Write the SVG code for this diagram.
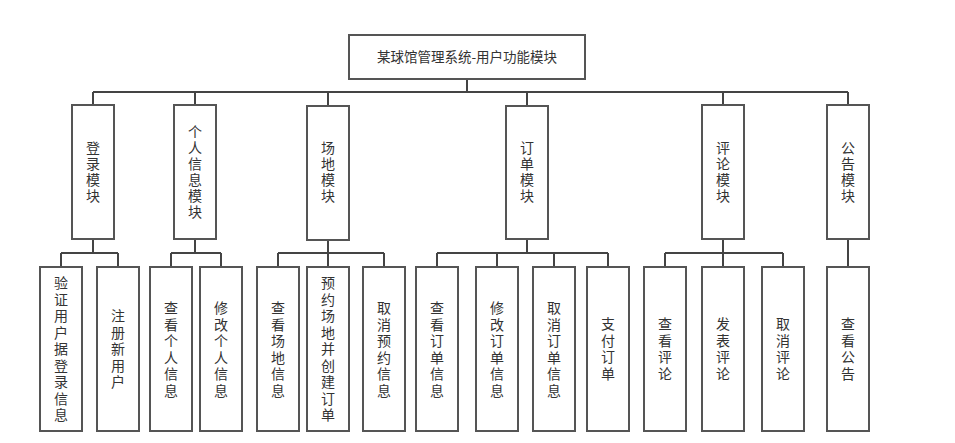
<svg xmlns="http://www.w3.org/2000/svg" width="955" height="443" viewBox="0 0 955 443">
<style>
.box{fill:#fff;stroke:#555;stroke-width:2}
.ln{fill:none;stroke:#444;stroke-width:2}
.t{font-family:"Noto Sans CJK SC","Noto Sans",sans-serif;font-size:14px;fill:#333;text-anchor:middle}
.tt{font-size:13.5px}
</style>
<rect width="955" height="443" fill="#fff"/>
<g id="connectors">
<path class="ln" d="M467 79V92M93 92H848M93 92V105M195 92V105M328 92V105M527 92V105M723 92V105M848 92V105"/>
<path class="ln" d="M93 239V253M61 253H118M61 253V267M118 253V267"/>
<path class="ln" d="M195 239V253M171 253H221M171 253V267M221 253V267"/>
<path class="ln" d="M328 240V253M278 253H384M278 253V267M328 253V267M384 253V267"/>
<path class="ln" d="M527 239V253M437 253H608M437 253V267M497 253V267M554 253V267M608 253V267"/>
<path class="ln" d="M723 239V253M665 253H783M665 253V267M723 253V267M783 253V267"/>
<path class="ln" d="M848 239V267"/>
</g>
<g id="root">
<rect class="box" x="349" y="35" width="236" height="44"/>
<text class="t tt" x="467" y="62">某球馆管理系统-用户功能模块</text>
</g>
<g id="login">
<rect class="box" x="72" y="105" width="42" height="134"/>
<text class="t" x="93" y="153"><tspan x="93">登</tspan><tspan x="93" dy="16">录</tspan><tspan x="93" dy="16">模</tspan><tspan x="93" dy="16">块</tspan></text>
</g>
<g id="personal">
<rect class="box" x="174" y="105" width="42" height="134"/>
<text class="t" x="195" y="137"><tspan x="195">个</tspan><tspan x="195" dy="16">人</tspan><tspan x="195" dy="16">信</tspan><tspan x="195" dy="16">息</tspan><tspan x="195" dy="16">模</tspan><tspan x="195" dy="16">块</tspan></text>
</g>
<g id="venue">
<rect class="box" x="307" y="106" width="42" height="134"/>
<text class="t" x="328" y="153"><tspan x="328">场</tspan><tspan x="328" dy="16">地</tspan><tspan x="328" dy="16">模</tspan><tspan x="328" dy="16">块</tspan></text>
</g>
<g id="order">
<rect class="box" x="506" y="106" width="42" height="133"/>
<text class="t" x="527" y="153"><tspan x="527">订</tspan><tspan x="527" dy="16">单</tspan><tspan x="527" dy="16">模</tspan><tspan x="527" dy="16">块</tspan></text>
</g>
<g id="comment">
<rect class="box" x="702" y="105" width="42" height="134"/>
<text class="t" x="723" y="153"><tspan x="723">评</tspan><tspan x="723" dy="16">论</tspan><tspan x="723" dy="16">模</tspan><tspan x="723" dy="16">块</tspan></text>
</g>
<g id="notice">
<rect class="box" x="827" y="105" width="42" height="134"/>
<text class="t" x="848" y="153"><tspan x="848">公</tspan><tspan x="848" dy="16">告</tspan><tspan x="848" dy="16">模</tspan><tspan x="848" dy="16">块</tspan></text>
</g>
<g id="verify-login">
<rect class="box" x="40" y="267" width="42" height="164"/>
<text class="t" x="61" y="288"><tspan x="61">验</tspan><tspan x="61" dy="16.5">证</tspan><tspan x="61" dy="16.5">用</tspan><tspan x="61" dy="16.5">户</tspan><tspan x="61" dy="16.5">据</tspan><tspan x="61" dy="16.5">登</tspan><tspan x="61" dy="16.5">录</tspan><tspan x="61" dy="16.5">信</tspan><tspan x="61" dy="16.5">息</tspan></text>
</g>
<g id="register">
<rect class="box" x="97" y="267" width="42" height="164"/>
<text class="t" x="118" y="321"><tspan x="118">注</tspan><tspan x="118" dy="16.5">册</tspan><tspan x="118" dy="16.5">新</tspan><tspan x="118" dy="16.5">用</tspan><tspan x="118" dy="16.5">户</tspan></text>
</g>
<g id="view-personal">
<rect class="box" x="150" y="267" width="42" height="164"/>
<text class="t" x="171" y="313"><tspan x="171">查</tspan><tspan x="171" dy="16.5">看</tspan><tspan x="171" dy="16.5">个</tspan><tspan x="171" dy="16.5">人</tspan><tspan x="171" dy="16.5">信</tspan><tspan x="171" dy="16.5">息</tspan></text>
</g>
<g id="edit-personal">
<rect class="box" x="200" y="267" width="42" height="164"/>
<text class="t" x="221" y="313"><tspan x="221">修</tspan><tspan x="221" dy="16.5">改</tspan><tspan x="221" dy="16.5">个</tspan><tspan x="221" dy="16.5">人</tspan><tspan x="221" dy="16.5">信</tspan><tspan x="221" dy="16.5">息</tspan></text>
</g>
<g id="view-venue">
<rect class="box" x="257" y="267" width="42" height="164"/>
<text class="t" x="278" y="313"><tspan x="278">查</tspan><tspan x="278" dy="16.5">看</tspan><tspan x="278" dy="16.5">场</tspan><tspan x="278" dy="16.5">地</tspan><tspan x="278" dy="16.5">信</tspan><tspan x="278" dy="16.5">息</tspan></text>
</g>
<g id="book-venue">
<rect class="box" x="307" y="267" width="42" height="164"/>
<text class="t" x="328" y="288"><tspan x="328">预</tspan><tspan x="328" dy="16.5">约</tspan><tspan x="328" dy="16.5">场</tspan><tspan x="328" dy="16.5">地</tspan><tspan x="328" dy="16.5">并</tspan><tspan x="328" dy="16.5">创</tspan><tspan x="328" dy="16.5">建</tspan><tspan x="328" dy="16.5">订</tspan><tspan x="328" dy="16.5">单</tspan></text>
</g>
<g id="cancel-booking">
<rect class="box" x="363" y="267" width="42" height="164"/>
<text class="t" x="384" y="313"><tspan x="384">取</tspan><tspan x="384" dy="16.5">消</tspan><tspan x="384" dy="16.5">预</tspan><tspan x="384" dy="16.5">约</tspan><tspan x="384" dy="16.5">信</tspan><tspan x="384" dy="16.5">息</tspan></text>
</g>
<g id="view-order">
<rect class="box" x="416" y="267" width="42" height="164"/>
<text class="t" x="437" y="313"><tspan x="437">查</tspan><tspan x="437" dy="16.5">看</tspan><tspan x="437" dy="16.5">订</tspan><tspan x="437" dy="16.5">单</tspan><tspan x="437" dy="16.5">信</tspan><tspan x="437" dy="16.5">息</tspan></text>
</g>
<g id="edit-order">
<rect class="box" x="476" y="267" width="42" height="164"/>
<text class="t" x="497" y="313"><tspan x="497">修</tspan><tspan x="497" dy="16.5">改</tspan><tspan x="497" dy="16.5">订</tspan><tspan x="497" dy="16.5">单</tspan><tspan x="497" dy="16.5">信</tspan><tspan x="497" dy="16.5">息</tspan></text>
</g>
<g id="cancel-order">
<rect class="box" x="533" y="267" width="42" height="164"/>
<text class="t" x="554" y="313"><tspan x="554">取</tspan><tspan x="554" dy="16.5">消</tspan><tspan x="554" dy="16.5">订</tspan><tspan x="554" dy="16.5">单</tspan><tspan x="554" dy="16.5">信</tspan><tspan x="554" dy="16.5">息</tspan></text>
</g>
<g id="pay-order">
<rect class="box" x="587" y="267" width="42" height="164"/>
<text class="t" x="608" y="329"><tspan x="608">支</tspan><tspan x="608" dy="16.5">付</tspan><tspan x="608" dy="16.5">订</tspan><tspan x="608" dy="16.5">单</tspan></text>
</g>
<g id="view-comment">
<rect class="box" x="644" y="267" width="42" height="164"/>
<text class="t" x="665" y="329"><tspan x="665">查</tspan><tspan x="665" dy="16.5">看</tspan><tspan x="665" dy="16.5">评</tspan><tspan x="665" dy="16.5">论</tspan></text>
</g>
<g id="post-comment">
<rect class="box" x="702" y="267" width="42" height="164"/>
<text class="t" x="723" y="329"><tspan x="723">发</tspan><tspan x="723" dy="16.5">表</tspan><tspan x="723" dy="16.5">评</tspan><tspan x="723" dy="16.5">论</tspan></text>
</g>
<g id="cancel-comment">
<rect class="box" x="762" y="267" width="42" height="164"/>
<text class="t" x="783" y="329"><tspan x="783">取</tspan><tspan x="783" dy="16.5">消</tspan><tspan x="783" dy="16.5">评</tspan><tspan x="783" dy="16.5">论</tspan></text>
</g>
<g id="view-notice">
<rect class="box" x="827" y="267" width="42" height="164"/>
<text class="t" x="848" y="329"><tspan x="848">查</tspan><tspan x="848" dy="16.5">看</tspan><tspan x="848" dy="16.5">公</tspan><tspan x="848" dy="16.5">告</tspan></text>
</g>
</svg>
